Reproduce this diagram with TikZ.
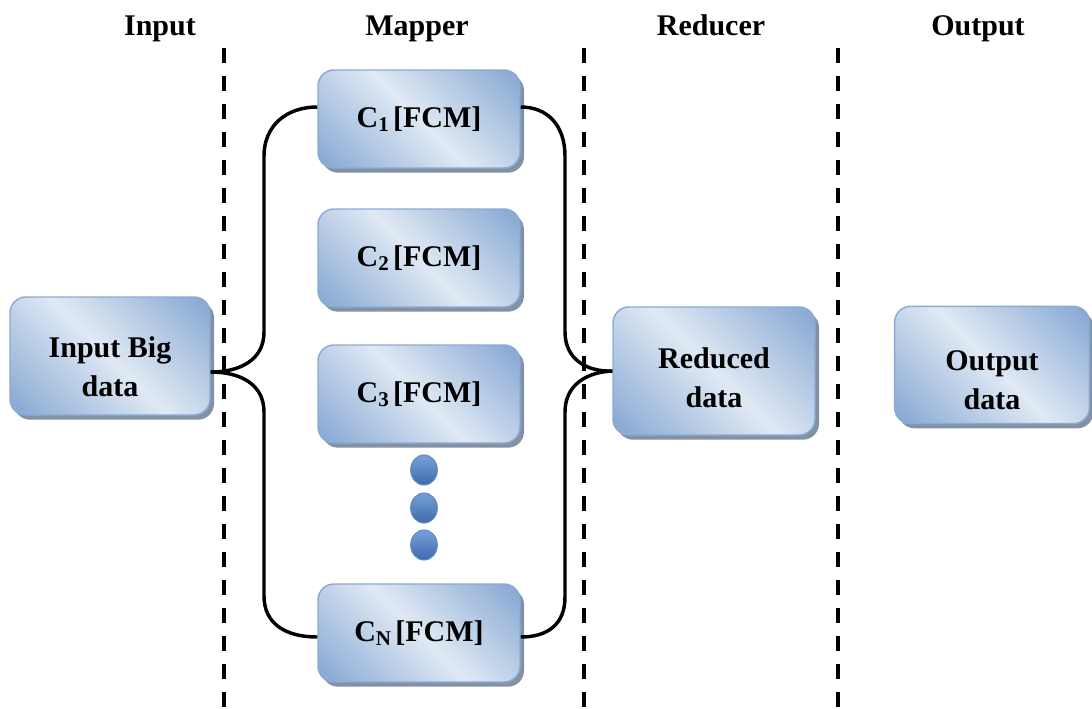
\documentclass[tikz,border=0pt]{standalone}
\usepackage{fontspec}
\setmainfont{Liberation Serif}
\usetikzlibrary{shadows,calc,shapes.geometric}

\definecolor{bxlight}{RGB}{224,233,244}
\definecolor{bxdark}{RGB}{140,172,213}
\definecolor{bxedge}{RGB}{138,170,213}
\definecolor{bxshadow}{RGB}{132,145,165}
\definecolor{dottop}{RGB}{118,160,214}
\definecolor{dotbot}{RGB}{62,106,172}
\definecolor{dotedge}{RGB}{96,138,198}

% diagonal blue sheen: darker towards two opposite corners, light in between
\pgfdeclarehorizontalshading{boxshade}{100bp}{%
  color(0bp)=(bxdark); color(18bp)=(bxdark); color(50bp)=(bxlight);
  color(82bp)=(bxdark); color(100bp)=(bxdark)}

\newcommand{\clus}[1]{C\textsubscript{#1}\hspace{0.12em}[FCM]}

\begin{document}
\begin{tikzpicture}[x=0.75pt,y=-0.75pt,
  databox/.style={rounded corners=12pt, draw=bxedge, line width=1.1pt,
    shading=boxshade, shading angle=45,
    drop shadow={shadow xshift=3pt, shadow yshift=-3.5pt, fill=bxshadow, opacity=1},
    inner sep=0pt, font=\fontsize{22.5}{30}\selectfont\bfseries, align=center},
  boxtext/.style={font=\fontsize{22.5}{29}\selectfont\bfseries, align=center, inner sep=0pt},
  header/.style={font=\fontsize{22.5}{27}\selectfont\bfseries, anchor=base, inner sep=0pt},
  divider/.style={line width=3pt, dash pattern=on 11.25pt off 9.75pt},
  brace/.style={line width=2.6pt},
  dot/.style={ellipse, minimum width=20pt, minimum height=22.5pt, inner sep=0pt,
    top color=dottop, bottom color=dotbot, draw=dotedge, line width=0.8pt}]

\useasboundingbox (0,0) rectangle (1092,708);

% column headers
\node[header] (hin)  at (160,35) {Input};
\node[header] (hmap) at (417,35) {Mapper};
\node[header] (hred) at (711,35) {Reducer};
\node[header] (hout) at (978,35) {Output};

% stage separators
\coordinate (s1t) at (224,48);  \coordinate (s1b) at (224,708);
\coordinate (s2t) at (584,48);  \coordinate (s2b) at (584,708);
\coordinate (s3t) at (838,48);  \coordinate (s3b) at (838,708);
\draw[divider] (s1t) -- (s1b);
\draw[divider] (s2t) -- (s2b);
\draw[divider] (s3t) -- (s3b);

% input
\node[databox, minimum width=150pt, minimum height=88.5pt] (inp) at (110,356) {};
\node[boxtext] (inpt) at (110,367) {Input Big\\data};

% mappers
\node[databox, minimum width=151.5pt, minimum height=73.5pt] (c1) at (419,119) {\clus{1}};
\node[databox, minimum width=151.5pt, minimum height=73.5pt] (c2) at (419,258) {\clus{2}};
\node[databox, minimum width=151.5pt, minimum height=73.5pt] (c3) at (419,394) {\clus{3}};
\node[databox, minimum width=151.5pt, minimum height=73.5pt] (cn) at (419,633) {\clus{N}};

\node[dot] (d1) at (424,470) {};
\node[dot] (d2) at (424,508) {};
\node[dot] (d3) at (424,545) {};

% reducer and output
\node[databox, minimum width=151.5pt, minimum height=96pt] (red) at (714,371) {};
\node[boxtext] (redt) at (714,378) {Reduced\\data};
\node[databox, minimum width=146pt, minimum height=88pt] (out) at (992,365) {};
\node[boxtext] (outt) at (992,380) {Output\\data};

% split brace: input to first and last mapper
\draw[brace] ($(c1.west)+(0,-12)$) .. controls (286,107) and (264,126) .. (264,156)
  -- (264,332) .. controls (264,360) and (240,372) .. ($(inp.east)+(0,16)$);
\draw[brace] ($(inp.east)+(0,16)$) .. controls (240,372) and (264,384) .. (264,412)
  -- (264,596) .. controls (264,624) and (286,637) .. ($(cn.west)+(0,4)$);

% merge brace: first and last mapper to reducer
\draw[brace] ($(c1.east)+(0,-12)$) .. controls (548,107) and (565,126) .. (565,156)
  -- (565,332) .. controls (565,360) and (588,372) .. (red.west);
\draw[brace] (red.west) .. controls (588,372) and (565,384) .. (565,412)
  -- (565,597) .. controls (565,624) and (548,637) .. ($(cn.east)+(0,4)$);

\end{tikzpicture}
\end{document}
